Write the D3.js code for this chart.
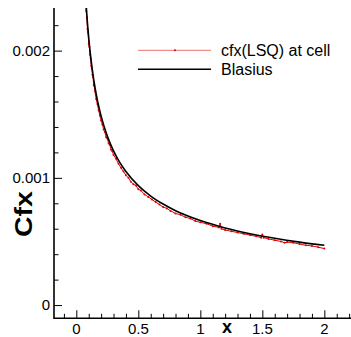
<!DOCTYPE html>
<html><head><meta charset="utf-8">
<script src="https://cdn.jsdelivr.net/npm/d3@7"></script>
<style>html,body{margin:0;padding:0;background:#fff;}svg{display:block;font-family:"Liberation Sans",Arial,sans-serif;}</style>
</head><body>
<script>
// Blasius reference curve
const blasiusX = [0.08,0.085,0.09,0.1,0.11,0.12,0.13,0.14,0.16,0.18,0.2,0.25,0.3,0.35,0.4,0.5,0.6,0.7,0.8,0.9,1.0,1.2,1.4,1.6,1.8,2.0];
const blasiusY = [0.002348,0.002278,0.002213,0.0021,0.002002,0.001917,0.001842,0.001775,0.00166,0.001565,0.001485,0.001328,0.001212,0.001122,0.00105,0.000939,0.000857,0.000794,0.000742,0.0007,0.000664,0.000606,0.000561,0.000525,0.000495,0.00047];
// cfx(LSQ) at cell
const cellX = [0.075,0.08,0.085,0.09,0.095,0.1,0.105,0.11,0.115,0.12,0.125,0.13,0.135,0.14,0.145,0.15,0.16,0.17,0.18,0.19,0.2,0.21,0.22,0.23,0.24,0.25,0.26,0.27,0.28,0.29,0.3,0.32,0.34,0.36,0.38,0.4,0.42,0.44,0.46,0.48,0.5,0.52,0.55,0.58,0.61,0.64,0.67,0.7,0.73,0.76,0.8,0.84,0.88,0.92,0.96,1.0,1.05,1.1,1.15,1.16,1.17,1.2,1.25,1.3,1.35,1.4,1.45,1.49,1.5,1.51,1.55,1.6,1.65,1.68,1.7,1.75,1.8,1.85,1.9,1.95,2.0];
const cellY = [0.00236,0.00231,0.00226,0.00217,0.00214,0.00205,0.00203,0.00197,0.00194,0.00188,0.00186,0.00181,0.00179,0.00173,0.00172,0.00168,0.00162,0.00158,0.00153,0.00149,0.00145,0.00142,0.00138,0.00136,0.00132,0.00131,0.00127,0.00126,0.00122,0.00121,0.00118,0.00115,0.00111,0.00108,0.00105,0.00102,0.00100,0.00097,0.00095,0.00094,0.00091,0.00090,0.00087,0.00085,0.00083,0.00081,0.00079,0.00077,0.00076,0.00074,0.00072,0.00071,0.00069,0.00068,0.00066,0.00065,0.00064,0.00062,0.00061,0.00064,0.00060,0.00059,0.00058,0.00057,0.00056,0.00055,0.00054,0.00053,0.000555,0.00053,0.00052,0.00051,0.00050,0.00049,0.000495,0.00049,0.00048,0.00047,0.000465,0.000455,0.000444];
const xMajor = [0,0.5,1,1.5,2];
const xLabels = ["0","0.5","1","1.5","2"];
const yMajor = [0,0.001,0.002];
const yLabels = ["0","0.001","0.002"];
const seriesNames = ["cfx(LSQ) at cell","Blasius"];

const W=351,H=337;
const svg=d3.select("body").append("svg").attr("width",W).attr("height",H);
const x=d3.scaleLinear().domain([-0.18,2.215]).range([54,351]);
const y=d3.scaleLinear().domain([-0.000104,0.002335]).range([318.3,8]);

const clip=svg.append("clipPath").attr("id","c").append("rect").attr("x",54).attr("y",8).attr("width",W-54).attr("height",318.3-8);
const plot=svg.append("g").attr("clip-path","url(#c)");

const line=d3.line().x((d)=>x(d[0])).y((d)=>y(d[1]));
const cell=cellX.map((v,i)=>[v,cellY[i]]);
const bl=blasiusX.map((v,i)=>[v,blasiusY[i]]);
plot.append("path").attr("d",line(cell)).attr("fill","none").attr("stroke","#e00000").attr("stroke-width",1);
plot.selectAll("circle.m").data(cell).join("circle").attr("cx",d=>x(d[0])).attr("cy",d=>y(d[1])).attr("r",1).attr("fill","#e00000");
plot.append("path").attr("d",line.curve(d3.curveMonotoneX)(bl)).attr("fill","none").attr("stroke","#000").attr("stroke-width",1.6);

// axes
const xMinor=d3.range(-1,23).map(i=>i/10).filter(v=>!xMajor.some(m=>Math.abs(m-v)<1e-9));
const yMinor=d3.range(0,12).map(i=>i*0.0002).filter(v=>!yMajor.some(m=>Math.abs(m-v)<1e-9));
const ax=svg.append("g").attr("transform","translate(0,318.3)");
ax.call(d3.axisTop(x).tickValues(xMajor).tickSize(8).tickFormat("")).call(g=>g.select(".domain").remove());
const ax2=svg.append("g").attr("transform","translate(0,318.3)");
ax2.call(d3.axisTop(x).tickValues(xMinor).tickSize(4.5).tickFormat("")).call(g=>g.select(".domain").remove());
svg.append("line").attr("x1",54).attr("x2",351).attr("y1",318.3).attr("y2",318.3).attr("stroke","#000").attr("stroke-width",1.6);
const ay=svg.append("g").attr("transform","translate(54,0)");
ay.call(d3.axisRight(y).tickValues(yMajor).tickSize(8).tickFormat("")).call(g=>g.select(".domain").remove());
const ay2=svg.append("g").attr("transform","translate(54,0)");
ay2.call(d3.axisRight(y).tickValues(yMinor).tickSize(4.5).tickFormat("")).call(g=>g.select(".domain").remove());
svg.append("line").attr("x1",54).attr("x2",54).attr("y1",8).attr("y2",319).attr("stroke","#000").attr("stroke-width",1.6);
svg.selectAll(".tick line").attr("stroke","#000").attr("stroke-width",1);

svg.selectAll("text.xl").data(xMajor).join("text").attr("x",d=>x(d)).attr("y",333.5).attr("text-anchor","middle").attr("font-size",15).text((d,i)=>xLabels[i]);
svg.selectAll("text.yl").data(yMajor).join("text").attr("x",50).attr("y",d=>y(d)+5.3).attr("text-anchor","end").attr("font-size",15).text((d,i)=>yLabels[i]);

svg.append("text").attr("x",227).attr("y",333).attr("text-anchor","middle").attr("font-size",18).attr("font-weight","bold").text("x");
svg.append("text").attr("transform","translate(31.5,214) rotate(-90)").attr("text-anchor","middle").attr("font-size",23).attr("font-weight","bold").attr("textLength",46).attr("lengthAdjust","spacingAndGlyphs").text("Cfx");

// legend
svg.append("line").attr("x1",138).attr("x2",211).attr("y1",50.3).attr("y2",50.3).attr("stroke","#e00000").attr("stroke-width",0.8).attr("opacity",0.7);
svg.append("circle").attr("cx",175).attr("cy",50.3).attr("r",1).attr("fill","#e00000");
svg.append("line").attr("x1",138).attr("x2",211).attr("y1",69.3).attr("y2",69.3).attr("stroke","#000").attr("stroke-width",1.6);
svg.append("text").attr("x",221).attr("y",55.5).attr("font-size",16).text(seriesNames[0]);
svg.append("text").attr("x",221).attr("y",75).attr("font-size",16).text(seriesNames[1]);
</script>
</body></html>
